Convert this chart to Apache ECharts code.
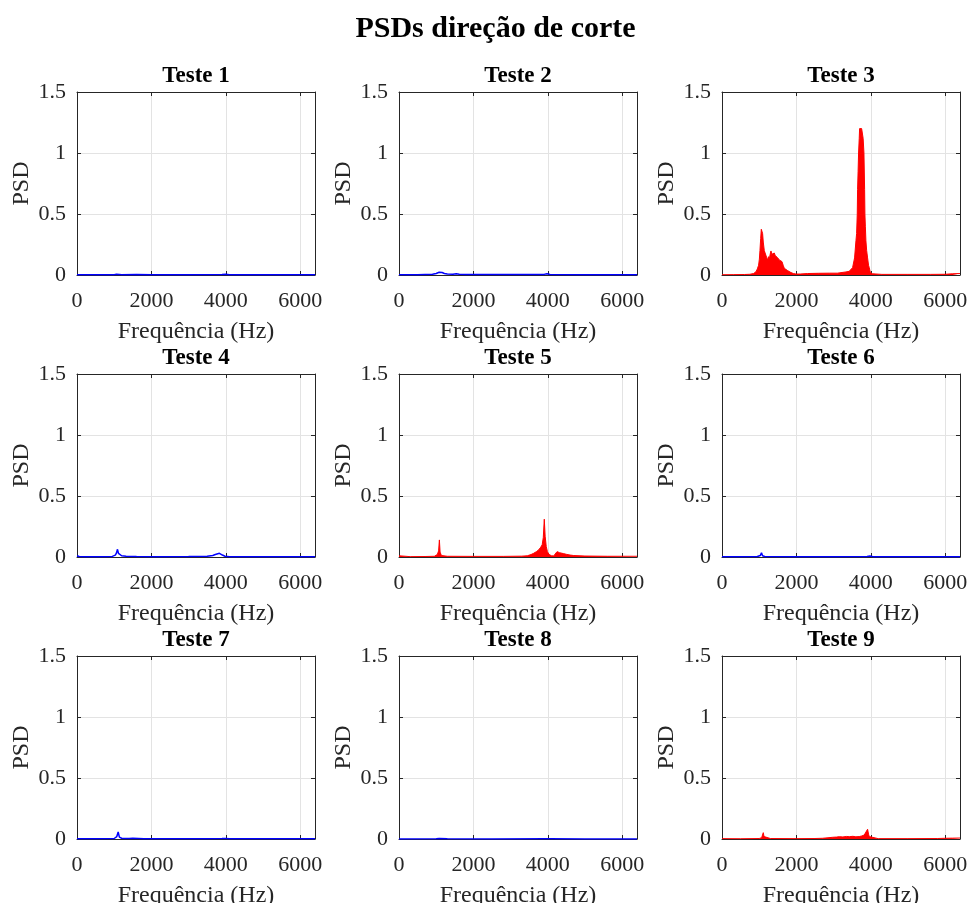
<!DOCTYPE html>
<html><head><meta charset="utf-8">
<script src="https://cdn.jsdelivr.net/npm/echarts@6/dist/echarts.min.js"></script>
<style>html,body{margin:0;padding:0;background:#fff}#c{width:971px;height:903px}</style>
</head><body><div id="c"></div>
<script>
// ---- data ----
const mainTitle = 'PSDs direção de corte';
const testNames = ['Teste 1','Teste 2','Teste 3','Teste 4','Teste 5','Teste 6','Teste 7','Teste 8','Teste 9'];
const xLabel = 'Frequência (Hz)';
const yLabel = 'PSD';
const xTicks = [0, 2000, 4000, 6000];
const yTicks = [0, 0.5, 1, 1.5];
const lineColors = ['#0000ff','#0000ff','#ff0000','#0000ff','#ff0000','#0000ff','#0000ff','#0000ff','#ff0000'];

const freq1 = [0,500,1000,1060,1100,1140,1200,1600,2000,3000,3900,4000,4100,5000,6000,6400];
const psd1  = [0.003,0.002,0.003,0.006,0.012,0.005,0.003,0.004,0.002,0.002,0.004,0.007,0.003,0.002,0.002,0.002];

const freq2 = [0,500,900,1000,1080,1120,1160,1220,1300,1450,1540,1620,1800,2200,3000,3900,3980,4060,5000,6000,6400];
const psd2  = [0.002,0.003,0.006,0.012,0.022,0.028,0.02,0.012,0.008,0.006,0.011,0.006,0.005,0.004,0.004,0.005,0.011,0.004,0.003,0.003,0.003];

const freq3 = [0,300,600,750,850,914,950,984,1005,1021,1040,1057,1075,1092,1110,1137,1160,1183,1205,1227,1250,1272,1295,1317,1340,1361,1385,1406,1430,1468,1500,1540,1575,1613,1645,1675,1720,1764,1810,1855,1920,1989,2100,2300,2600,2900,3100,3333,3420,3468,3511,3565,3602,3620,3637,3646,3660,3673,3690,3700,3720,3736,3755,3775,3795,3817,3835,3843,3855,3870,3890,3915,3940,3960,3990,4049,4300,5000,5600,6000,6200,6400];
const psd3  = [0.002,0.003,0.004,0.006,0.012,0.027,0.05,0.08,0.13,0.2,0.3,0.375,0.36,0.34,0.27,0.2,0.18,0.164,0.14,0.123,0.15,0.13,0.17,0.197,0.17,0.164,0.185,0.18,0.16,0.15,0.14,0.123,0.12,0.11,0.08,0.055,0.045,0.036,0.025,0.02,0.012,0.008,0.008,0.012,0.014,0.015,0.015,0.025,0.03,0.038,0.06,0.14,0.28,0.34,0.5,0.7,0.85,1.0,1.12,1.2,1.21,1.21,1.2,1.19,1.12,1.0,0.7,0.5,0.4,0.28,0.2,0.14,0.08,0.06,0.02,0.01,0.005,0.005,0.005,0.006,0.01,0.012];

const freq4 = [0,60,200,600,950,1030,1060,1089,1115,1150,1200,1320,1600,2200,3000,3500,3650,3720,3770,3830,3870,3910,3980,4100,5000,6000,6400];
const psd4  = [0.01,0.004,0.003,0.003,0.005,0.015,0.032,0.063,0.03,0.014,0.01,0.007,0.004,0.003,0.004,0.006,0.012,0.02,0.026,0.03,0.024,0.016,0.006,0.003,0.003,0.003,0.003];

const freq5 = [0,50,300,700,950,1030,1065,1086,1105,1140,1300,2000,2800,3300,3450,3550,3620,3700,3760,3810,3850,3880,3907,3930,3960,3990,4030,4100,4160,4210,4250,4285,4320,4370,4420,4500,4600,4700,5000,5600,6400];
const psd5  = [0.01,0.004,0.003,0.004,0.006,0.02,0.05,0.14,0.04,0.012,0.006,0.005,0.005,0.007,0.01,0.02,0.03,0.045,0.06,0.08,0.1,0.16,0.31,0.17,0.085,0.045,0.022,0.01,0.009,0.025,0.044,0.057,0.035,0.033,0.028,0.022,0.016,0.012,0.008,0.006,0.006];

const freq6 = [0,500,950,1030,1062,1090,1150,2000,3000,3900,3980,4060,5000,6400];
const psd6  = [0.003,0.002,0.004,0.012,0.035,0.01,0.004,0.002,0.003,0.004,0.008,0.003,0.002,0.003];

const freq7 = [0,500,1000,1070,1107,1140,1200,1300,1400,1500,1650,1800,2500,3500,3900,4000,4100,5000,6400];
const psd7  = [0.002,0.002,0.004,0.02,0.057,0.015,0.006,0.005,0.004,0.006,0.005,0.003,0.002,0.003,0.004,0.005,0.003,0.002,0.002];

const freq8 = [0,1000,1080,1102,1125,1300,2500,3950,4000,4050,5000,6400];
const psd8  = [0.001,0.002,0.004,0.009,0.003,0.002,0.001,0.002,0.005,0.002,0.001,0.001];

const freq9 = [0,500,1000,1066,1090,1110,1130,1155,1300,2000,2500,2700,2850,2974,3080,3153,3250,3350,3422,3520,3600,3691,3760,3825,3870,3915,3940,3960,4005,4200,5000,5800,6000,6200,6400];
const psd9  = [0.003,0.002,0.004,0.011,0.025,0.052,0.02,0.008,0.004,0.003,0.004,0.006,0.01,0.014,0.016,0.019,0.017,0.021,0.019,0.022,0.018,0.02,0.025,0.033,0.045,0.08,0.04,0.02,0.004,0.003,0.003,0.004,0.006,0.007,0.008];

const freqs = [freq1,freq2,freq3,freq4,freq5,freq6,freq7,freq8,freq9];
const psds  = [psd1,psd2,psd3,psd4,psd5,psd6,psd7,psd8,psd9];

// ---- layout ----
const colLeft = [77, 399, 722];
const rowTop = [92, 374, 656];
const W = 238, H = 183;
const FONT = '"Liberation Serif", "Times New Roman", serif';
const AX = '#262626';
const boxLine = {show: true, onZero: false, lineStyle: {color: AX, width: 1}};

const grid = [], xAxis = [], yAxis = [], series = [];
for (let i = 0; i < 9; i++) {
  const r = Math.floor(i / 3), c = i % 3;
  grid.push({left: colLeft[c], top: rowTop[r], width: W, height: H, show: false,
    containLabel: false, outerBoundsMode: 'none'});
  // bottom x axis
  xAxis.push({type: 'value', gridIndex: i, position: 'bottom', min: xTicks[0], max: 6400, interval: 2000,
    axisLine: boxLine,
    axisTick: {show: true, inside: true, length: 4, lineStyle: {color: AX}},
    axisLabel: {margin: 15, fontFamily: FONT, fontSize: 22, color: AX,
      formatter: v => xTicks.includes(v) ? String(v) : ''},
    splitLine: {show: true, lineStyle: {color: '#e3e3e3', width: 1}},
    name: xLabel, nameLocation: 'middle', nameGap: 45,
    nameTextStyle: {fontFamily: FONT, fontSize: 24, color: AX}});
  // top x axis (ticks + subplot title)
  xAxis.push({type: 'value', gridIndex: i, position: 'top', min: xTicks[0], max: 6400, interval: 2000,
    axisLine: boxLine,
    axisTick: {show: true, inside: true, length: 4, lineStyle: {color: AX}},
    axisLabel: {show: false}, splitLine: {show: false},
    name: testNames[i], nameLocation: 'middle', nameGap: 4,
    nameTextStyle: {fontFamily: FONT, fontSize: 23, fontWeight: 'bold', color: '#000'}});
  yAxis.push({type: 'value', gridIndex: i, position: 'left', min: yTicks[0], max: yTicks[3], interval: 0.5,
    axisLine: boxLine,
    axisTick: {show: true, inside: true, length: 4, lineStyle: {color: AX}},
    axisLabel: {margin: 11, fontFamily: FONT, fontSize: 22, color: AX,
      formatter: v => yTicks.includes(v) ? String(v) : ''},
    splitLine: {show: true, lineStyle: {color: '#e3e3e3', width: 1}},
    name: yLabel, nameLocation: 'middle', nameGap: 43, nameRotate: 90,
    nameTextStyle: {fontFamily: FONT, fontSize: 24, color: AX}});
  yAxis.push({type: 'value', gridIndex: i, position: 'right', min: yTicks[0], max: yTicks[3], interval: 0.5,
    axisLine: boxLine,
    axisTick: {show: true, inside: true, length: 4, lineStyle: {color: AX}},
    axisLabel: {show: false}, splitLine: {show: false}});
  const isRed = lineColors[i] === '#ff0000';
  series.push({type: 'line', xAxisIndex: 2 * i, yAxisIndex: 2 * i,
    data: freqs[i].map((f, k) => [f, psds[i][k]]),
    symbol: 'none', silent: true,
    lineStyle: {color: lineColors[i], width: isRed ? 1 : 1.5},
    itemStyle: {color: lineColors[i]},
    areaStyle: isRed ? {color: lineColors[i], opacity: 1} : undefined,
    z: 3});
}

const chart = echarts.init(document.getElementById('c'), null, {renderer: 'canvas'});
chart.setOption({
  animation: false,
  backgroundColor: '#fff',
  graphic: [{type: 'text', x: 495.5, y: 29, z: 10,
    style: {text: mainTitle, fontFamily: FONT, fontSize: 30, fontWeight: 'bold', fill: '#000',
      align: 'center', verticalAlign: 'middle', textAlign: 'center', textVerticalAlign: 'middle'}}],
  grid, xAxis, yAxis, series
});
</script></body></html>
